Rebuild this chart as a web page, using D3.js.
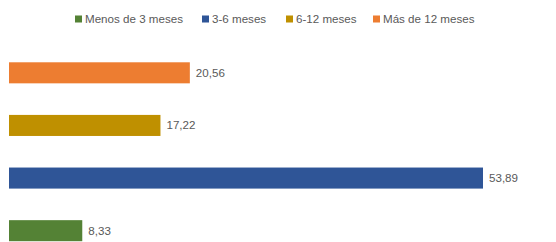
<!DOCTYPE html>
<html>
<head>
<meta charset="utf-8">
<script src="https://cdn.jsdelivr.net/npm/d3@7"></script>
<style>
  body { margin: 0; background: #fff; }
  text { font-family: "Liberation Sans", Arial, sans-serif; fill: #595959; }
</style>
</head>
<body>
<svg id="chart" width="556" height="242"></svg>
<script>
// categories from top to bottom, as drawn
const categories = ["Más de 12 meses", "6-12 meses", "3-6 meses", "Menos de 3 meses"];
const values = [20.56, 17.22, 53.89, 8.33];
const colors = ["#ED7D31", "#BF9000", "#2F5597", "#548235"];
// legend order
const legendItems = ["Menos de 3 meses", "3-6 meses", "6-12 meses", "Más de 12 meses"];
const legendColors = ["#548235", "#2F5597", "#BF9000", "#ED7D31"];

const svg = d3.select("#chart"),
    width = +svg.attr("width"),
    height = +svg.attr("height");

const x = d3.scaleLinear()
    .domain([0, 53.89])
    .range([9, 483]);

const y = d3.scaleBand()
    .domain(categories)
    .range([46.5, 257])
    .paddingInner(0.6)
    .paddingOuter(0.3);

const fmt = v => d3.format(".2f")(v).replace(".", ",");

const bars = svg.append("g")
    .selectAll("g")
    .data(categories)
    .enter().append("g");

bars.append("rect")
    .attr("x", x(0))
    .attr("y", d => y(d))
    .attr("width", (d, i) => x(values[i]) - x(0))
    .attr("height", y.bandwidth())
    .attr("fill", (d, i) => colors[i]);

bars.append("text")
    .attr("x", (d, i) => x(values[i]) + 6)
    .attr("y", d => y(d) + y.bandwidth() / 2)
    .attr("dy", ".35em")
    .attr("font-size", "11.6px")
    .text((d, i) => fmt(values[i]));

// legend
const legendX = [75, 202, 286, 373];
const legend = svg.append("g")
    .selectAll("g")
    .data(legendItems)
    .enter().append("g")
    .attr("transform", (d, i) => `translate(${legendX[i]},19)`);

legend.append("rect")
    .attr("x", 0)
    .attr("y", -3.5)
    .attr("width", 7)
    .attr("height", 7)
    .attr("fill", (d, i) => legendColors[i]);

legend.append("text")
    .attr("x", 10)
    .attr("dy", ".35em")
    .attr("font-size", "11.6px")
    .text(d => d);
</script>
</body>
</html>
